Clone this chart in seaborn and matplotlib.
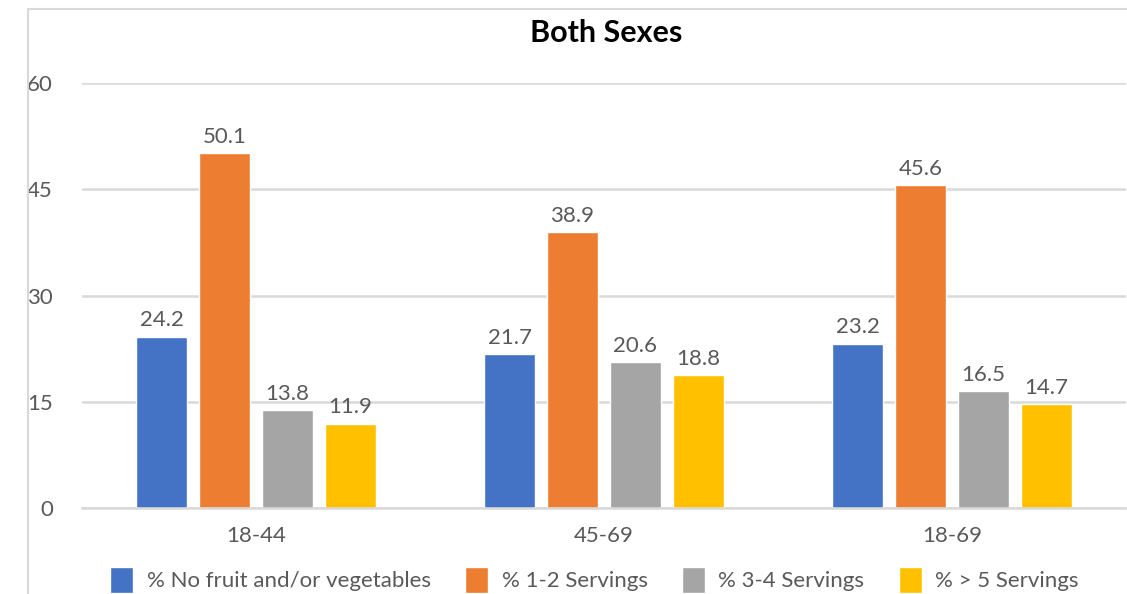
import matplotlib
matplotlib.use("Agg")
import matplotlib.pyplot as plt
from matplotlib.lines import Line2D
import pandas as pd
import seaborn as sns

# Age groups and serving categories
age_groups = ["18-44", "45-69", "18-69"]
series_names = [
    "% No fruit and/or vegetables",
    "% 1-2 Servings",
    "% 3-4 Servings",
    "% > 5 Servings",
]
no_fruit_veg = [24.2, 21.7, 23.2]
servings_1_2 = [50.1, 38.9, 45.6]
servings_3_4 = [13.8, 20.6, 16.5]
servings_5_plus = [11.9, 18.8, 14.7]
y_ticks = [0, 15, 30, 45, 60]

colors = ["#4472C4", "#ED7D31", "#A5A5A5", "#FFC000"]
text_color = "#595959"
grid_color = "#D9D9D9"
fs = 16

rows = []
for name, vals in zip(series_names,
                      [no_fruit_veg, servings_1_2, servings_3_4, servings_5_plus]):
    for grp, v in zip(age_groups, vals):
        rows.append({"Age": grp, "Series": name, "Value": v})
df = pd.DataFrame(rows)

sns.set_theme(style="white")
plt.rcParams["font.family"] = ["Lato", "DejaVu Sans"]

fig = plt.figure(figsize=(11.27, 5.94), dpi=100)
ax = fig.add_axes([82 / 1127, 1 - 508 / 594, 1044 / 1127, 425 / 594])

sns.barplot(data=df, x="Age", y="Value", hue="Series", order=age_groups,
            hue_order=series_names, palette=colors, width=0.724, gap=0.2,
            saturation=1, ax=ax, errorbar=None)

for cont in ax.containers:
    ax.bar_label(cont, fmt="%.1f", padding=4.5, fontsize=fs, color=text_color)

ax.set_ylim(0, 60)
ax.set_xlim(-0.5, 2.5)
ax.set_yticks(y_ticks)
ax.set_yticklabels([str(t) for t in y_ticks])
ax.yaxis.grid(True, color=grid_color, linewidth=1.8)
ax.set_axisbelow(True)
ax.set_xlabel("")
ax.set_ylabel("")
ax.tick_params(axis="y", length=0, pad=21, labelsize=fs, labelcolor=text_color)
ax.tick_params(axis="x", length=0, pad=13, labelsize=fs, labelcolor=text_color)
for side in ["top", "right", "left"]:
    ax.spines[side].set_visible(False)
ax.spines["bottom"].set_color(grid_color)
ax.spines["bottom"].set_linewidth(1.8)

handles, labels = ax.get_legend_handles_labels()
ax.get_legend().remove()
fig.legend(handles, labels, loc="center", bbox_to_anchor=(594.5 / 1127, 1 - 580 / 594),
           ncol=4, frameon=False, fontsize=fs, labelcolor=text_color,
           handlelength=1.04, handleheight=1.45, handletextpad=0.6,
           columnspacing=1.55, borderpad=0)

fig.text(606 / 1127, 1 - 33 / 594, "Both Sexes", ha="center", va="center",
         fontsize=22, fontweight="bold", color="black")

# Chart-area border (top and left edges)
fig.add_artist(Line2D([27.5 / 1127, 1.0], [1 - 9 / 594, 1 - 9 / 594],
                      transform=fig.transFigure, color=grid_color, linewidth=1.5))
fig.add_artist(Line2D([27.5 / 1127, 27.5 / 1127], [0.0, 1 - 9 / 594],
                      transform=fig.transFigure, color=grid_color, linewidth=1.5))

fig.savefig("out.png", dpi=100, facecolor="white")
